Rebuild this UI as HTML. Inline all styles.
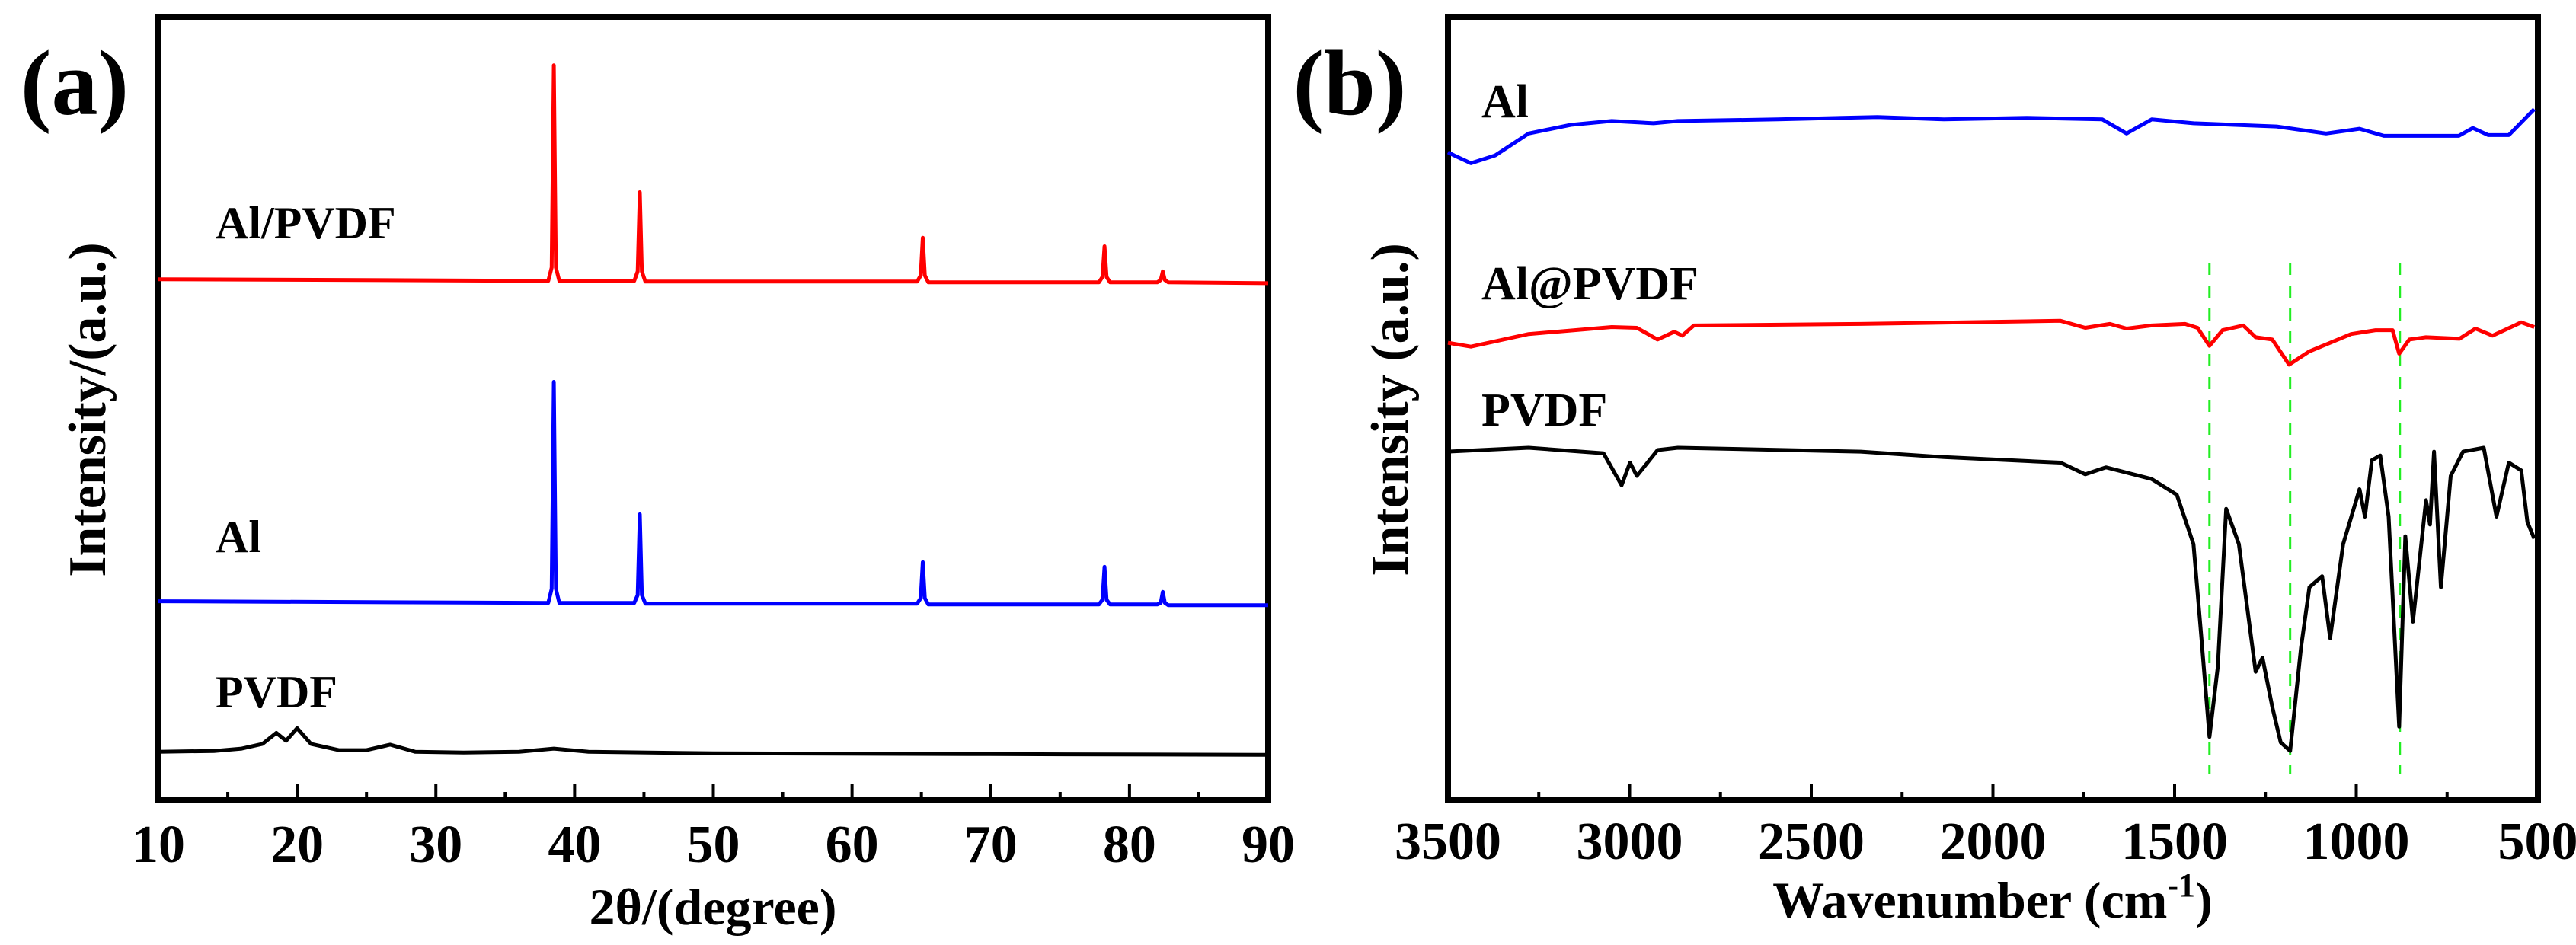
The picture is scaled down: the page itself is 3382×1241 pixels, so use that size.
<!DOCTYPE html>
<html><head><meta charset="utf-8">
<style>
html,body{margin:0;padding:0;background:#fff;}
svg{display:block;font-family:"Liberation Serif","Times New Roman",serif;font-weight:bold;}
</style></head>
<body>
<svg id="fig" width="3382" height="1241" viewBox="0 0 3382 1241" xmlns="http://www.w3.org/2000/svg">
<rect width="3382" height="1241" fill="#fff"/>
<g id="pa"></g>
<g id="pb"></g>
</svg>
<script>
// ---------- Panel (a) XRD data ----------
const xrdTicks = [10,20,30,40,50,60,70,80,90];
const xrdX = [10,38.1,38.35,38.5,38.65,38.9,44.3,44.55,44.7,44.85,45.1,64.7,64.95,65.1,65.25,65.5,77.8,78.05,78.2,78.35,78.6,82.0,82.25,82.4,82.55,82.8,90];
const xrdAlPVDF = [665,663,680,938,680,663,663,675,776,675,662,662,670,718,670,661,661,668,707,668,661,661,664,675,664,661,660];
const xrdAl = [254,252,270,534,270,252,252,262,365,262,251,251,258,304,258,250,250,256,298,256,250,250,252,266,252,249,249];
const xrdPVDFx = [10,14,16,17.5,18.5,19.2,20,21,23,25,26.7,28.5,32,36,38.5,41,50,70,90];
const xrdPVDF = [62,63,66,72,86,76,92,72,64,64,71,62,61,62,66,62,60,59,58];

// ---------- Panel (b) FTIR data ----------
const ftirTicks = [3500,3000,2500,2000,1500,1000,500];
const ftirTickLabels = ["3500","3000","2500","2000","1500","1000","500"];
const ftirAlX = [3500,3483,3437,3370,3278,3162,3049,2934,2867,2592,2318,2135,1907,1699,1632,1563,1448,1219,1083,991,924,718,679,637,580,510];
const ftirAl = [827,823,813,823,851,862,867,864,867,869,872,869,871,869,851,869,864,860,851,857,848,848,858,849,849,882];
const ftirAlPX = [3500,3437,3278,3049,2980,2923,2877,2855,2823,2364,1814,1746,1678,1632,1563,1471,1437,1404,1368,1311,1277,1231,1185,1129,1014,947,900,882,854,808,716,672,625,546,510];
const ftirAlP = [584,579,595,604,603,588,598,593,606,608,612,603,608,602,606,608,603,580,600,606,591,588,556,573,595,600,600,570,588,591,589,602,593,610,604];
const ftirPX = [3500,3278,3072,3022,2999,2980,2923,2867,2364,2135,1814,1746,1689,1563,1494,1448,1426,1404,1381,1358,1323,1277,1258,1231,1208,1182,1152,1129,1094,1072,1036,991,976,957,934,911,882,865,844,808,797,786,767,740,706,649,614,580,546,529,510];
const ftirP = [445,450,443,402,431,414,447,450,445,438,431,416,425,410,390,327,206,81,171,372,327,164,182,119,74,63,195,272,286,207,327,397,362,434,440,362,94,337,228,383,352,445,272,414,445,450,362,431,421,355,334];
const markLines = [1404,1182,880];

const NS="http://www.w3.org/2000/svg";
function mk(parent,tag,attrs,text){const e=document.createElementNS(NS,tag);for(const k in attrs)e.setAttribute(k,attrs[k]);if(text!==undefined)e.textContent=text;parent.appendChild(e);return e;}
const Y0=1051,Y1=22;
function yS(v){return Y0-(v/1000)*(Y0-Y1);}

function path(g,xs,ys,xf,color,name){
  let d="";for(let i=0;i<xs.length;i++){d+=(i?"L":"M")+xf(xs[i]).toFixed(1)+","+yS(ys[i]).toFixed(1);}
  const p=mk(g,"path",{d:d,fill:"none",stroke:color,"stroke-width":5,"stroke-linejoin":"round"});
  
  
}
function frame(g,L,R){
  const r=mk(g,"rect",{x:L,y:Y1,width:R-L,height:Y0-Y1,fill:"none",stroke:"#000","stroke-width":8});
  
  
}
function txt(g,x,y,s,size,anchor,name,extra){
  const t=mk(g,"text",Object.assign({x:x,y:y,"font-size":size,"text-anchor":anchor||"start",fill:"#000"},extra||{}),s);
  
  
  return t;
}

// ---- Panel a ----
const ga=document.getElementById("pa");
const aL=208,aR=1665;
const xa=v=>aL+(v-10)/80*(aR-aL);
frame(ga,aL,aR);
for(let v=15;v<90;v+=10){const l=mk(ga,"line",{x1:xa(v),x2:xa(v),y1:Y0,y2:Y0-11,stroke:"#000","stroke-width":4});}
xrdTicks.forEach(v=>{
  const l=mk(ga,"line",{x1:xa(v),x2:xa(v),y1:Y0,y2:Y0-21,stroke:"#000","stroke-width":4});
  
  txt(ga,xa(v),1132,String(v),70,"middle","x-tick-label");
});
path(ga,xrdX,xrdAlPVDF,xa,"#ff0000","series-al-pvdf");
path(ga,xrdX,xrdAl,xa,"#0000ff","series-al");
path(ga,xrdPVDFx,xrdPVDF,xa,"#000","series-pvdf");
txt(ga,283,313,"Al/PVDF",60,"start","label-al-pvdf");
txt(ga,283,725,"Al",60,"start","label-al");
txt(ga,283,929,"PVDF",60,"start","label-pvdf");
txt(ga,98,150,"(a)",122,"middle","panel-label-a");
txt(ga,936,1214,"2θ/(degree)",68,"middle","x-axis-title");
txt(ga,0,0,"Intensity/(a.u.)",70,"middle","y-axis-title",{transform:"translate(138,538) rotate(-90)"});

// ---- Panel b ----
const gb=document.getElementById("pb");
const bL=1901,bR=3332;
const xb=v=>bL+(3500-v)/3000*(bR-bL);
frame(gb,bL,bR);
for(let v=3250;v>500;v-=500){const l=mk(gb,"line",{x1:xb(v),x2:xb(v),y1:Y0,y2:Y0-11,stroke:"#000","stroke-width":4});}
ftirTicks.forEach((v,i)=>{
  const l=mk(gb,"line",{x1:xb(v),x2:xb(v),y1:Y0,y2:Y0-21,stroke:"#000","stroke-width":4});
  
  txt(gb,xb(v),1128,ftirTickLabels[i],70,"middle","x-tick-label");
});
markLines.forEach(v=>{
  const l=mk(gb,"line",{x1:xb(v),x2:xb(v),y1:345,y2:1016,stroke:"#22ee22","stroke-width":3,"stroke-dasharray":"16 14"});
  
  
});
path(gb,ftirAlX,ftirAl,xb,"#0000ff","series-al");
path(gb,ftirAlPX,ftirAlP,xb,"#ff0000","series-al-at-pvdf");
path(gb,ftirPX,ftirP,xb,"#000","series-pvdf");
txt(gb,1945,154,"Al",62,"start","label-al");
txt(gb,1945,393,"Al@PVDF",62,"start","label-al-at-pvdf");
txt(gb,1945,559,"PVDF",62,"start","label-pvdf");
txt(gb,1772,150,"(b)",122,"middle","panel-label-b");
const xt=txt(gb,2616,1205,"Wavenumber (cm",68,"middle","x-axis-title");
const sup=mk(xt,"tspan",{dy:-28,"font-size":44},"-1");
const cl=mk(xt,"tspan",{dy:28},")");
txt(gb,0,0,"Intensity (a.u.)",70,"middle","y-axis-title",{transform:"translate(1848,538) rotate(-90)"});
</script>
</body></html>
